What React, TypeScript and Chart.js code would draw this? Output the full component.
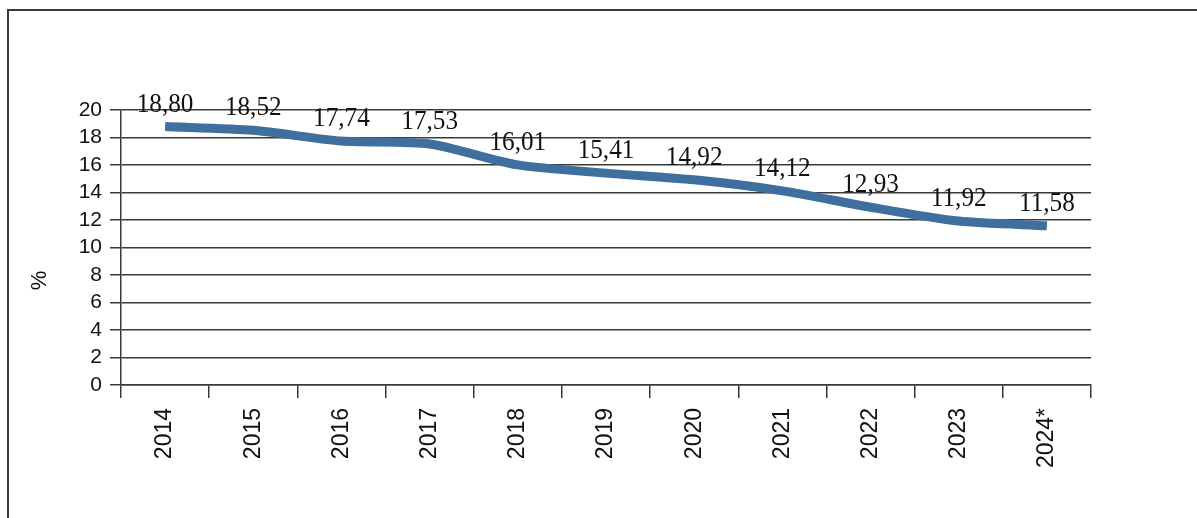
import React, { useEffect, useRef } from "react";
import { Chart, registerables } from "chart.js";

Chart.register(...registerables);

const years: string[] = ["2014", "2015", "2016", "2017", "2018", "2019", "2020", "2021", "2022", "2023", "2024*"];
const shares: number[] = [18.8, 18.52, 17.74, 17.53, 16.01, 15.41, 14.92, 14.12, 12.93, 11.92, 11.58];
const yMin = 0;
const yMax = 20;
const yStep = 2;
const unitLabel = "%";

const AXIS = "#3a3a3a";

const valueLabels = {
  id: "valueLabels",
  afterDatasetsDraw(chart: any) {
    const { ctx, chartArea } = chart;
    const meta = chart.getDatasetMeta(0);
    const data = chart.data.datasets[0].data as number[];
    ctx.save();
    ctx.fillStyle = "#111";
    ctx.font = '28px "Liberation Serif", "Times New Roman", serif';
    ctx.textAlign = "center";
    ctx.textBaseline = "alphabetic";
    meta.data.forEach((pt: any, i: number) => {
      const txt = data[i].toFixed(2).replace(".", ",");
      ctx.save();
      ctx.translate(pt.x, pt.y - 15);
      ctx.scale(0.9, 1);
      ctx.fillText(txt, 0, 0);
      ctx.restore();
    });
    // unit label
    ctx.translate(chartArea.left - 81, chartArea.top + (chartArea.bottom - chartArea.top) * 0.62);
    ctx.rotate(-Math.PI / 2);
    ctx.font = '22px "Liberation Sans", Arial, sans-serif';
    ctx.textBaseline = "middle";
    ctx.fillText(unitLabel, 0, 0);
    ctx.restore();
  },
};

export default function App() {
  const ref = useRef<HTMLCanvasElement | null>(null);
  useEffect(() => {
    if (!ref.current) return;
    const chart = new Chart(ref.current, {
      type: "line",
      data: {
        labels: years,
        datasets: [
          {
            data: shares,
            borderColor: "#3f6f9d",
            borderWidth: 9,
            tension: 0.25,
            pointRadius: 0,
            borderCapStyle: "butt",
            fill: false,
          },
        ],
      },
      options: {
        animation: false,
        responsive: false,
        maintainAspectRatio: false,
        devicePixelRatio: 1,
        layout: { padding: { left: 0, top: 110, right: 106, bottom: 0 } },
        plugins: { legend: { display: false }, tooltip: { enabled: false }, title: { display: false } },
        scales: {
          x: {
            type: "category",
            offset: true,
            grid: {
              offset: true,
              drawOnChartArea: false,
              drawTicks: true,
              tickLength: 13,
              color: AXIS,
              lineWidth: 1.5,
            },
            border: { display: true, color: AXIS, width: 1.5 },
            ticks: {
              color: "#111",
              font: { family: '"Liberation Sans", Arial, sans-serif', size: 23 },
              minRotation: 90,
              maxRotation: 90,
              autoSkip: false,
              padding: 10,
            },
            afterFit(scale: any) {
              scale.height = 133;
            },
          },
          y: {
            min: yMin,
            max: yMax,
            ticks: {
              stepSize: yStep,
              autoSkip: false,
              color: "#111",
              font: { family: '"Liberation Sans", Arial, sans-serif', size: 21 },
              padding: 8,
            },
            grid: {
              color: AXIS,
              lineWidth: 1.5,
              drawTicks: true,
              tickLength: 11,
            },
            border: { display: true, color: AXIS, width: 1.5 },
            afterFit(scale: any) {
              scale.width = 121;
            },
          },
        },
      },
      plugins: [valueLabels],
    });
    return () => chart.destroy();
  }, []);

  return (
    <div style={{ position: "absolute", left: 0, top: 0, width: 1197, height: 518, overflow: "hidden", background: "#fff" }}>
      <div
        style={{
          position: "absolute",
          left: 7,
          top: 9,
          width: 1200,
          height: 520,
          borderTop: `2px solid ${AXIS}`,
          borderLeft: `2px solid ${AXIS}`,
        }}
      />
      <canvas ref={ref} width={1197} height={518} style={{ position: "absolute", left: 0, top: 0, width: 1197, height: 518 }} />
    </div>
  );
}
